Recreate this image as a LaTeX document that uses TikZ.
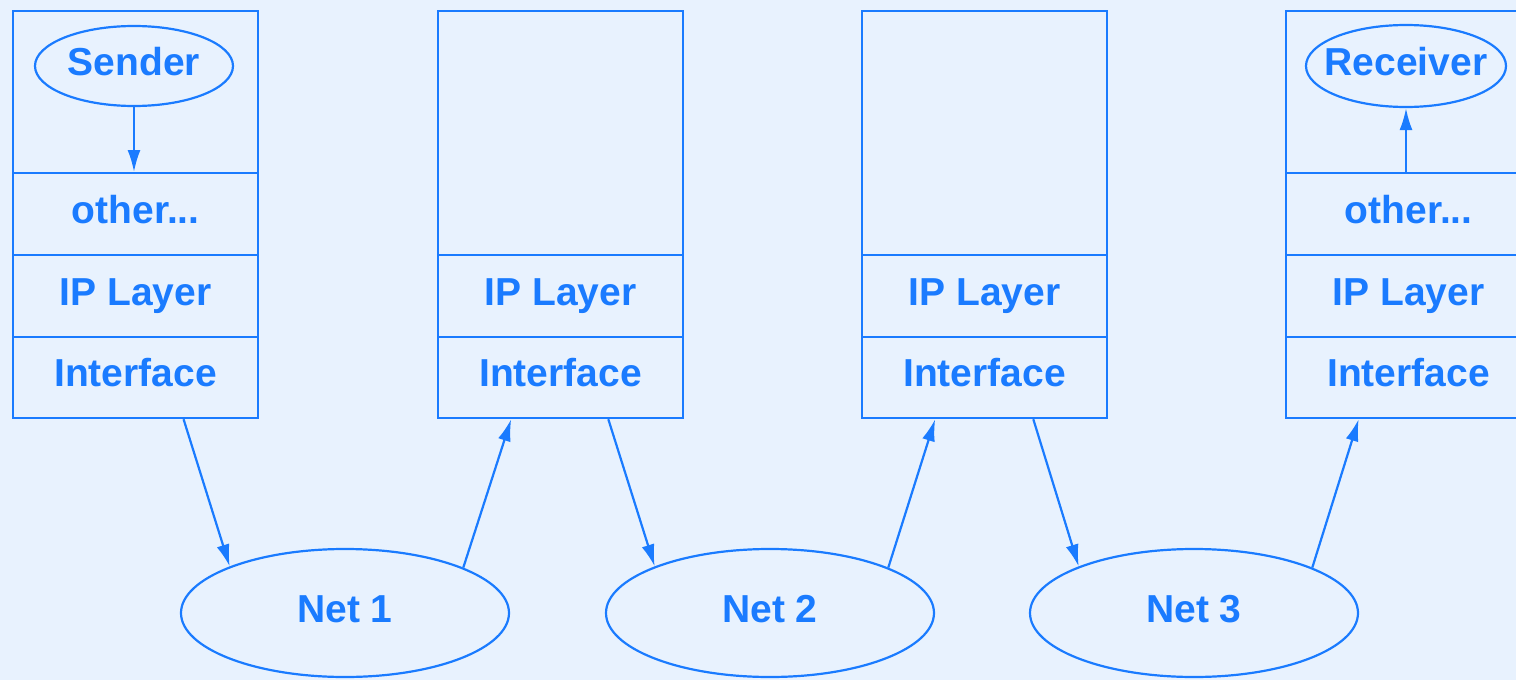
\documentclass[tikz,border=0pt]{standalone}
\usepackage{fontspec}
\setmainfont{Liberation Sans}
\usetikzlibrary{shapes.geometric,arrows.meta,calc}
\definecolor{bg}{HTML}{E8F2FE}
\definecolor{ln}{HTML}{1A7BFF}
\begin{document}
\begin{tikzpicture}[x=1pt,y=-1pt,
  every node/.style={text=ln, font=\fontsize{39}{42}\selectfont\bfseries, text height=28pt, text depth=10pt},
  layer/.style={draw=ln, line width=2.2pt, rectangle, minimum width=245pt, inner sep=0pt, anchor=north west},
  oval/.style={draw=ln, line width=2.2pt, ellipse, inner ysep=0pt, inner xsep=-20pt},
  arr/.style={draw=ln, line width=2.2pt, -{Latex[length=22pt,width=13pt]}}]
\useasboundingbox (0,0) rectangle (1516,680);
\clip (0,0) rectangle (1516,680);
\fill[bg] (0,0) rectangle (1516,680);

% Box 1 (sender)
\node[layer, minimum height=162pt] (top1) at (12,10) {};
\node[layer, minimum height=82pt] (oth1) at (12,172) {other...};
\node[layer, minimum height=82pt] (ip1) at (12,254) {IP Layer};
\node[layer, minimum height=81pt] (if1) at (12,336) {Interface};
\node[oval, minimum width=198pt, minimum height=80pt] (sender) at (134,66) {Sender};

% Box 2
\node[layer, minimum height=244pt] (top2) at (437,10) {};
\node[layer, minimum height=82pt] (ip2) at (437,254) {IP Layer};
\node[layer, minimum height=81pt] (if2) at (437,336) {Interface};

% Box 3
\node[layer, minimum height=244pt] (top3) at (861,10) {};
\node[layer, minimum height=82pt] (ip3) at (861,254) {IP Layer};
\node[layer, minimum height=81pt] (if3) at (861,336) {Interface};

% Box 4 (receiver)
\node[layer, minimum height=162pt] (top4) at (1285,10) {};
\node[layer, minimum height=82pt] (oth4) at (1285,172) {other...};
\node[layer, minimum height=82pt] (ip4) at (1285,254) {IP Layer};
\node[layer, minimum height=81pt] (if4) at (1285,336) {Interface};
\node[oval, minimum width=200pt, minimum height=82pt] (rec) at (1406,66) {Receiver};

% Networks
\node[oval, minimum width=328pt, minimum height=128pt] (net1) at (345,613) {Net 1};
\node[oval, minimum width=328pt, minimum height=128pt] (net2) at (770,613) {Net 2};
\node[oval, minimum width=328pt, minimum height=128pt] (net3) at (1194,613) {Net 3};

% Arrows
\draw[arr] (sender.south) -- (sender.south |- oth1.north);
\draw[arr] (rec.south |- oth4.north) -- (rec.south);

\draw[arr] ($(if1.south west)!0.694!(if1.south east)$) -- (net1.158);
\draw[arr] (net1.21.6) -- ($(if2.south west)!0.30!(if2.south east)$);
\draw[arr] ($(if2.south west)!0.693!(if2.south east)$) -- (net2.158);
\draw[arr] (net2.21.6) -- ($(if3.south west)!0.30!(if3.south east)$);
\draw[arr] ($(if3.south west)!0.697!(if3.south east)$) -- (net3.158);
\draw[arr] (net3.21.6) -- ($(if4.south west)!0.298!(if4.south east)$);
\end{tikzpicture}
\end{document}
